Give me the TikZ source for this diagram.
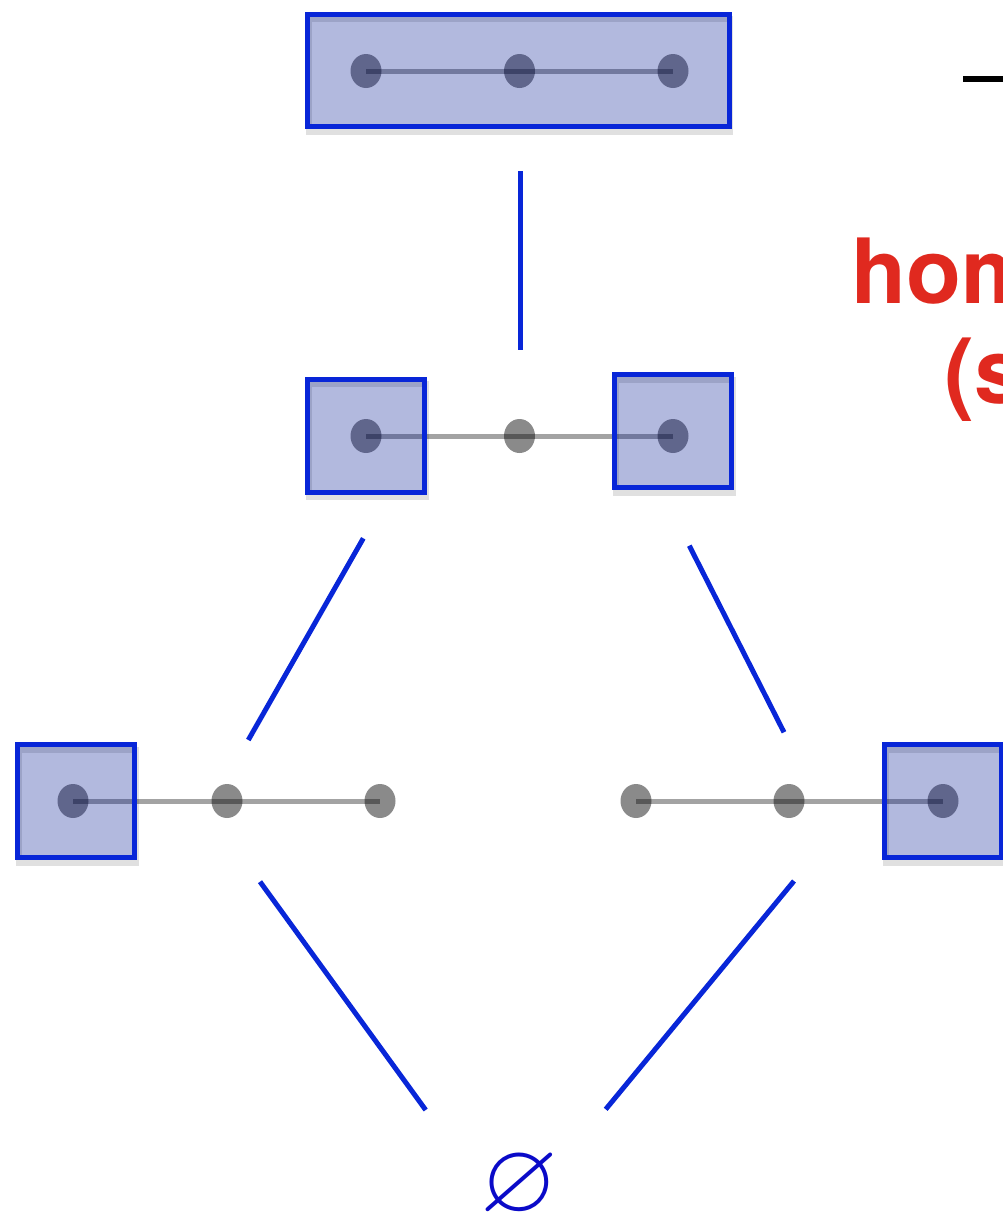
\documentclass[tikz,border=0pt]{standalone}
\usepackage{fontspec}
\usepackage{amssymb}
\setmainfont{TeX Gyre Heros}
\usetikzlibrary{shapes.geometric}
\definecolor{edgeblue}{RGB}{8,38,216}
\definecolor{shadeblue}{RGB}{0,22,145}
\definecolor{labelred}{RGB}{224,41,31}
\definecolor{nullblue}{RGB}{10,10,200}
\begin{document}
\begin{tikzpicture}[x=0.5pt,y=-0.5pt,
  vertex/.style={ellipse, fill=black, fill opacity=0.46, draw=none,
    minimum width=15.5pt, minimum height=17pt, inner sep=0pt},
  bond/.style={draw=black, draw opacity=0.36, line width=2.5pt},
  blockbox/.style={rectangle, inner sep=0pt, draw=edgeblue, line width=2.5pt,
    fill=shadeblue, fill opacity=0.3, minimum width=58.5pt, minimum height=56.5pt,
    preaction={draw=black, draw opacity=0.12, line width=3pt,
      transform canvas={shift={(0.5pt,-2.5pt)}}}},
  cover/.style={draw=edgeblue, line width=2.5pt},
  redlabel/.style={anchor=base west, inner sep=0pt, text=labelred,
    font=\fontsize{45}{54}\selectfont\bfseries},
]
\useasboundingbox (0,0) rectangle (1002,1216);

% ---- top level: the whole path ----
\node[vertex] (t1) at (366,71) {};
\node[vertex] (t2) at (519.5,71) {};
\node[vertex] (t3) at (673,71) {};
\draw[bond] (t1.center) -- (t3.center);
\node[blockbox, minimum width=210.6pt, minimum height=56.3pt] (top) at (518.5,70.5) {};

% ---- middle level: both end points ----
\node[vertex] (m1) at (366,436) {};
\node[vertex] (m2) at (519.5,436) {};
\node[vertex] (m3) at (673,436) {};
\draw[bond] (m1.center) -- (m3.center);
\node[blockbox] (midL) at (366.3,435.8) {};
\node[blockbox] (midR) at (673.3,431.2) {};

% ---- lower level: single end points ----
\node[vertex] (b1) at (73,801) {};
\node[vertex] (b2) at (227,801) {};
\node[vertex] (b3) at (380,801) {};
\draw[bond] (b1.center) -- (b3.center);
\node[blockbox] (lowL) at (76,801) {};

\node[vertex] (b4) at (636,801) {};
\node[vertex] (b5) at (789,801) {};
\node[vertex] (b6) at (943,801) {};
\draw[bond] (b4.center) -- (b6.center);
\node[blockbox] (lowR) at (943,801) {};

% ---- bottom: empty set ----
\node[text=nullblue, inner sep=0pt, font=\fontsize{50}{60}\selectfont] (empty) at (519,1186) {$\varnothing$};

% ---- cover relations ----
\coordinate (v1) at (520,171);   \coordinate (v2) at (520,350);
\coordinate (l1) at (363.3,538.3); \coordinate (l2) at (248.3,740);
\coordinate (r1) at (689.3,545.7); \coordinate (r2) at (784,732.3);
\coordinate (p1) at (260,881.7);  \coordinate (p2) at (425.7,1110);
\coordinate (q1) at (794,881);    \coordinate (q2) at (605.7,1109.3);
\draw[cover] (v1) -- (v2);
\draw[cover] (l1) -- (l2);
\draw[cover] (r1) -- (r2);
\draw[cover] (p1) -- (p2);
\draw[cover] (q1) -- (q2);

% ---- right-hand annotation ----
\coordinate (dashA) at (963,79); \coordinate (dashB) at (1006,79);
\draw[line width=3pt] (dashA) -- (dashB);
\node[redlabel] (lab1) at (851,303) {hom};
\node[redlabel] (lab2) at (944,403) {(s};
\end{tikzpicture}
\end{document}
